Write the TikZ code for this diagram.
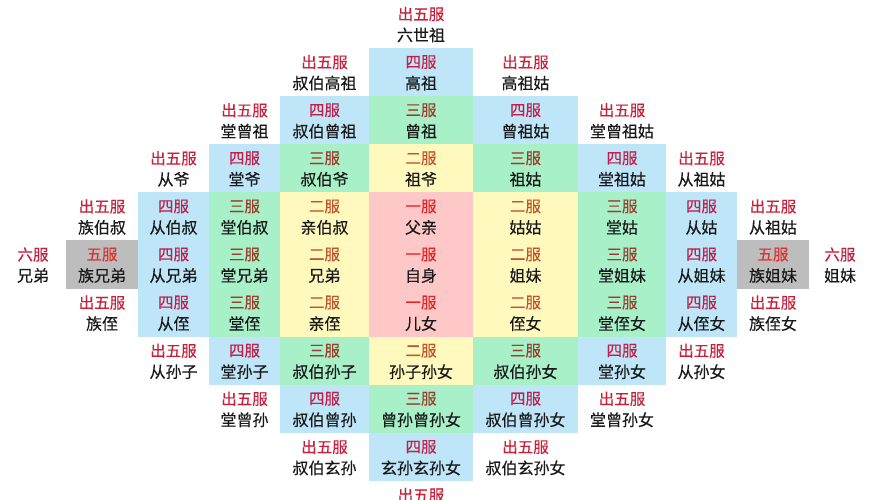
\documentclass[tikz,border=0pt]{standalone}
\usepackage{fontspec}
\newfontfamily\cjk[FakeBold=0.35]{Noto Sans CJK SC}
\usepackage{tikz}
\usetikzlibrary{calc}

\definecolor{lan}{HTML}{BEE6F8}
\definecolor{lv}{HTML}{A8F0C8}
\definecolor{huang}{HTML}{FFF9BE}
\definecolor{fen}{HTML}{FFC8C8}
\definecolor{hui}{HTML}{BDBDBD}
\definecolor{chu}{HTML}{C8203A}
\definecolor{si}{HTML}{C0204A}
\definecolor{san}{HTML}{9E3C2C}
\definecolor{er}{HTML}{C2522C}
\definecolor{yi}{HTML}{E02424}
\definecolor{wu}{HTML}{E03030}
\definecolor{liu}{HTML}{C02040}

\begin{document}
\begin{tikzpicture}[x=1pt,y=-1pt]
\tikzstyle{fulab}=[inner sep=0pt,font=\cjk\fontsize{15.5}{15.5}\selectfont]
\tikzstyle{mingzi}=[inner sep=0pt,text=black!90,font=\cjk\fontsize{16}{16}\selectfont]
\fill[white] (0,0) rectangle (871,500);
\useasboundingbox (0,0) rectangle (871,500);
\foreach \c/\r/\fc/\fu/\lc/\mz [count=\i] in {
  0/0/white/出五服/chu/六世祖,
  -1/1/white/出五服/chu/叔伯高祖, 0/1/lan/四服/si/高祖, 1/1/white/出五服/chu/高祖姑,
  -2/2/white/出五服/chu/堂曾祖, -1/2/lan/四服/si/叔伯曾祖, 0/2/lv/三服/san/曾祖, 1/2/lan/四服/si/曾祖姑, 2/2/white/出五服/chu/堂曾祖姑,
  -3/3/white/出五服/chu/从爷, -2/3/lan/四服/si/堂爷, -1/3/lv/三服/san/叔伯爷, 0/3/huang/二服/er/祖爷, 1/3/lv/三服/san/祖姑, 2/3/lan/四服/si/堂祖姑, 3/3/white/出五服/chu/从祖姑,
  -4/4/white/出五服/chu/族伯叔, -3/4/lan/四服/si/从伯叔, -2/4/lv/三服/san/堂伯叔, -1/4/huang/二服/er/亲伯叔, 0/4/fen/一服/yi/父亲, 1/4/huang/二服/er/姑姑, 2/4/lv/三服/san/堂姑, 3/4/lan/四服/si/从姑, 4/4/white/出五服/chu/从祖姑,
  -5/5/white/六服/liu/兄弟, -4/5/hui/五服/wu/族兄弟, -3/5/lan/四服/si/从兄弟, -2/5/lv/三服/san/堂兄弟, -1/5/huang/二服/er/兄弟, 0/5/fen/一服/yi/自身, 1/5/huang/二服/er/姐妹, 2/5/lv/三服/san/堂姐妹, 3/5/lan/四服/si/从姐妹, 4/5/hui/五服/wu/族姐妹, 5/5/white/六服/liu/姐妹,
  -4/6/white/出五服/chu/族侄, -3/6/lan/四服/si/从侄, -2/6/lv/三服/san/堂侄, -1/6/huang/二服/er/亲侄, 0/6/fen/一服/yi/儿女, 1/6/huang/二服/er/侄女, 2/6/lv/三服/san/堂侄女, 3/6/lan/四服/si/从侄女, 4/6/white/出五服/chu/族侄女,
  -3/7/white/出五服/chu/从孙子, -2/7/lan/四服/si/堂孙子, -1/7/lv/三服/san/叔伯孙子, 0/7/huang/二服/er/孙子孙女, 1/7/lv/三服/san/叔伯孙女, 2/7/lan/四服/si/堂孙女, 3/7/white/出五服/chu/从孙女,
  -2/8/white/出五服/chu/堂曾孙, -1/8/lan/四服/si/叔伯曾孙, 0/8/lv/三服/san/曾孙曾孙女, 1/8/lan/四服/si/叔伯曾孙女, 2/8/white/出五服/chu/堂曾孙女,
  -1/9/white/出五服/chu/叔伯玄孙, 0/9/lan/四服/si/玄孙玄孙女, 1/9/white/出五服/chu/叔伯玄孙女} {
  \pgfmathsetmacro{\xl}{{0,66,138,209,280,369,473,578,666,737,809,871}[\c+5]}
  \pgfmathsetmacro{\xr}{{0,66,138,209,280,369,473,578,666,737,809,871}[\c+6]}
  \pgfmathsetmacro{\yt}{48.1*\r}
  \fill[\fc] (\xl,\yt) rectangle (\xr,\yt+48.1);
  \node[fulab,text=\lc] (f\i) at ({(\xl+\xr)/2},\yt+14) {\fu};
  \node[mingzi] (m\i) at ({(\xl+\xr)/2},\yt+35) {\mz};
}
\node[fulab,text=chu] (fend) at (421,495) {出五服};
\end{tikzpicture}
\end{document}
